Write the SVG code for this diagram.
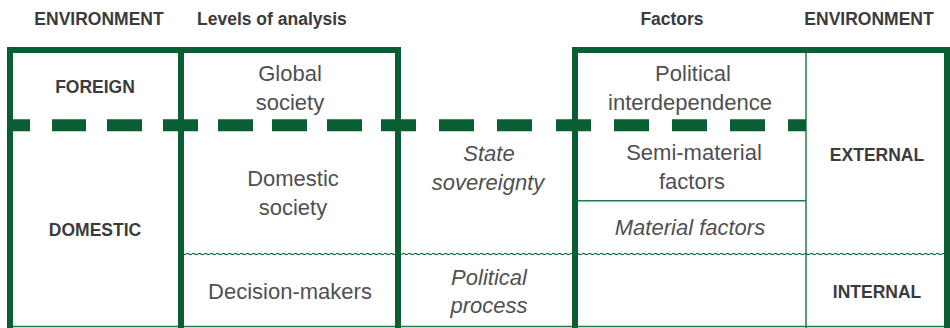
<svg xmlns="http://www.w3.org/2000/svg" width="950" height="328" viewBox="0 0 950 328">
  <style>
    .head { font-family: "Liberation Sans", Arial, sans-serif; font-weight: bold; font-size: 17.5px; fill: #3b3b3b; }
    .env { font-family: "Liberation Sans", Arial, sans-serif; font-weight: bold; font-size: 17.5px; fill: #3b3b3b; text-anchor: middle; }
    .lbl { font-family: "Liberation Sans", Arial, sans-serif; font-size: 22px; fill: #505050; text-anchor: middle; }
    .it { font-style: italic; }
    .thick { fill: none; stroke: #0a5e34; stroke-width: 6; }
    .thin { fill: none; stroke: #217a48; stroke-width: 1.5; }
    .dash { fill: none; stroke: #0a5e34; stroke-width: 12; }
  </style>
  <defs>
    <!-- small ripple used for the wavy boundary -->
    <pattern id="wave" width="6" height="4" patternUnits="userSpaceOnUse">
      <path d="M0 2 Q1.5 0.6 3 2 T6 2" fill="none" stroke="#1d6e44" stroke-width="1.2"/>
    </pattern>
  </defs>
  <rect width="950" height="328" fill="#ffffff"/>

  <!-- column headings -->
  <g id="headings">
    <text class="head" x="99" y="25" text-anchor="middle">ENVIRONMENT</text>
    <text class="head" x="197" y="25">Levels of analysis</text>
    <text class="head" x="672" y="25" text-anchor="middle">Factors</text>
    <text class="head" x="869" y="25" text-anchor="middle">ENVIRONMENT</text>
  </g>

  <!-- frame and boundaries -->
  <g id="connectors">
    <path class="thin" d="M7 326.5H950"/>
    <path class="thin" d="M806 50V328"/>
    <path class="thin" d="M578 200.7H806"/>
    <rect x="184" y="251.5" width="760" height="4" fill="url(#wave)"/>
    <path class="thick" d="M10 328V50H398V328"/>
    <path class="thick" d="M181 50V328"/>
    <path class="thick" d="M575 328V50H947V328"/>
    <path class="dash" d="M12 125.3H30M52 125.3H86M107 125.3H142M163 125.3H198M218 125.3H253M272 125.3H307M327 125.3H362M381 125.3H416M439 125.3H474M497 125.3H532M556 125.3H591M614 125.3H649M672 125.3H707M730 125.3H765M788 125.3H806"/>
  </g>

  <!-- environment column -->
  <g id="foreign"><text class="env" x="95" y="93">FOREIGN</text></g>
  <g id="domestic"><text class="env" x="95" y="236">DOMESTIC</text></g>

  <!-- levels of analysis -->
  <g id="global-society">
    <text class="lbl" x="290" y="81">Global</text>
    <text class="lbl" x="290" y="110">society</text>
  </g>
  <g id="domestic-society">
    <text class="lbl" x="293" y="186">Domestic</text>
    <text class="lbl" x="293" y="215">society</text>
  </g>
  <g id="decision-makers"><text class="lbl" x="290" y="299">Decision-makers</text></g>

  <!-- middle column -->
  <g id="state-sovereignty">
    <text class="lbl it" x="489" y="161">State</text>
    <text class="lbl it" x="488" y="190">sovereignty</text>
  </g>
  <g id="political-process">
    <text class="lbl it" x="489" y="285">Political</text>
    <text class="lbl it" x="489" y="313">process</text>
  </g>

  <!-- factors -->
  <g id="political-interdependence">
    <text class="lbl" x="693" y="81">Political</text>
    <text class="lbl" x="690" y="110">interdependence</text>
  </g>
  <g id="semi-material">
    <text class="lbl" x="694" y="160">Semi-material</text>
    <text class="lbl" x="692" y="189">factors</text>
  </g>
  <g id="material"><text class="lbl it" x="690" y="235">Material factors</text></g>

  <!-- right environment column -->
  <g id="external"><text class="env" x="877" y="161">EXTERNAL</text></g>
  <g id="internal"><text class="env" x="877" y="298">INTERNAL</text></g>
</svg>
